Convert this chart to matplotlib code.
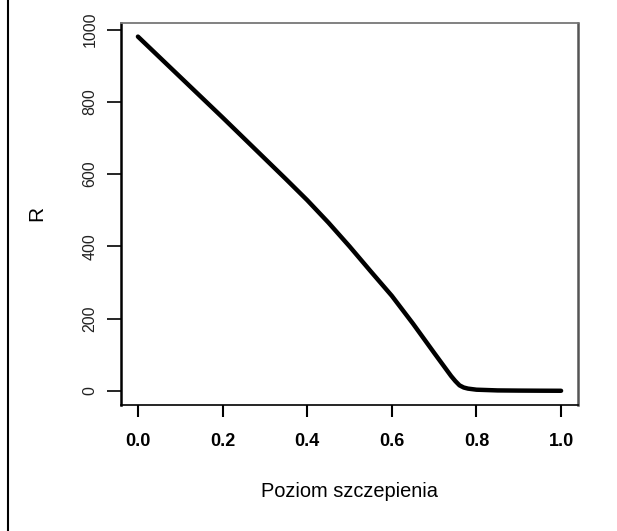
import matplotlib
matplotlib.use('Agg')
import matplotlib.pyplot as plt
from matplotlib.lines import Line2D

# values
poziom = [0.0, 0.05, 0.1, 0.15, 0.2, 0.25, 0.3, 0.35, 0.4, 0.45, 0.5, 0.55,
          0.6, 0.65, 0.7, 0.72, 0.74, 0.75, 0.76, 0.77, 0.78, 0.8, 0.85, 0.9, 0.95, 1.0]
R = [981, 925, 869, 813, 757, 700, 643, 586, 528, 466, 400, 331,
     263, 186, 105, 73, 41, 27, 15, 9, 6, 3, 1, 0.5, 0.2, 0]

x_ticks = [0.0, 0.2, 0.4, 0.6, 0.8, 1.0]
x_labels = ['0.0', '0.2', '0.4', '0.6', '0.8', '1.0']
y_ticks = [0, 200, 400, 600, 800, 1000]

plt.rcParams['font.family'] = ['Liberation Sans', 'DejaVu Sans']

fig = plt.figure(figsize=(6.17, 5.31), dpi=100)
ax = fig.add_axes([121 / 617, 126 / 531, 457 / 617, 382.3 / 531])

ax.plot(poziom, R, color='black', linewidth=3.2, solid_capstyle='round')

ax.set_xlim(-0.04, 1.04)
ax.set_ylim(-39.4, 1019.5)

ax.set_xticks(x_ticks)
ax.set_xticklabels(x_labels, fontsize=13, color='black', fontweight='bold')
ax.set_yticks(y_ticks)
ax.set_yticklabels([str(v) for v in y_ticks], fontsize=11.5, rotation=90,
                   va='center', color='#222222')
ax.tick_params(axis='x', direction='out', length=8.5, width=1.5, pad=12)
ax.tick_params(axis='y', direction='out', length=10, width=1.2, pad=7)

for side in ['left', 'bottom']:
    ax.spines[side].set_color('black')
ax.spines['left'].set_linewidth(1.8)
ax.spines['bottom'].set_linewidth(1.2)
ax.spines['top'].set_color('#777777')
ax.spines['top'].set_linewidth(1.3)
ax.spines['right'].set_color('#555555')
ax.spines['right'].set_linewidth(1.8)

ax.set_xlabel('Poziom szczepienia', fontsize=14.4, color='black', va='center')
ax.xaxis.set_label_coords(0.5, -0.2268)
ax.set_ylabel('R', fontsize=15, color='black', va='center')
ax.yaxis.set_label_coords(-0.1838, 0.5)

# outer frame line on the left edge
fig.add_artist(Line2D([8 / 617, 8 / 617], [0, 1], transform=fig.transFigure,
                      color='black', linewidth=1.5))

fig.savefig('out.png', dpi=100)
